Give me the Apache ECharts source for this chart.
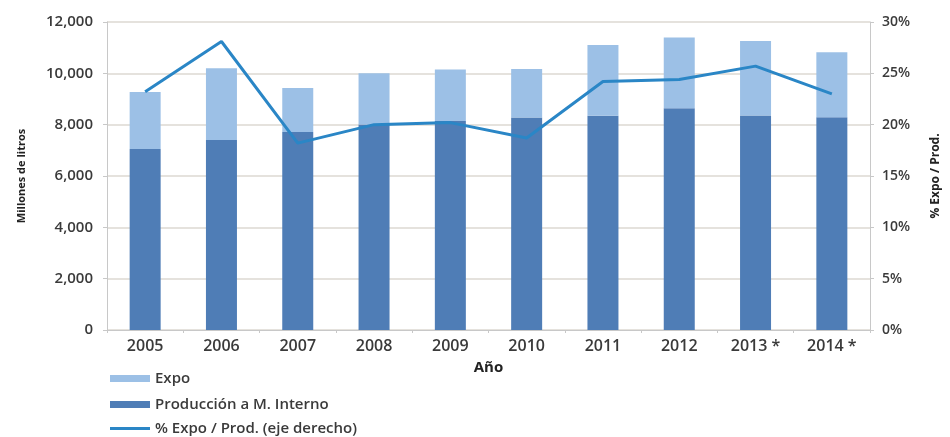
<!DOCTYPE html>
<html>
<head>
<meta charset="utf-8">
<script src="https://cdn.jsdelivr.net/npm/echarts@6/dist/echarts.min.js"></script>
<style>
  html, body { margin: 0; padding: 0; background: #fff; }
  #chart { width: 950px; height: 437px; }
</style>
</head>
<body>
<div id="chart"></div>
<script>
// Years (2013 and 2014 are estimates)
const years = ['2005', '2006', '2007', '2008', '2009', '2010', '2011', '2012', '2013 *', '2014 *'];
// Domestic-market production, millions of litres
const produccionInterno = [7050, 7400, 7710, 8010, 8140, 8280, 8350, 8640, 8360, 8290];
// Total production, millions of litres (export = total - domestic)
const produccionTotal = [9270, 10200, 9430, 10000, 10150, 10170, 11100, 11400, 11260, 10820];
// Export share of production, percent (right axis)
const pctExpo = [23.2, 28.1, 18.2, 20.0, 20.2, 18.7, 24.2, 24.4, 25.7, 23.0];

const expo = produccionTotal.map((t, i) => t - produccionInterno[i]);

const font = 'Open Sans';
const textColor = '#3a3a3a';
const gridColor = '#dcd8d2';
const colInterno = '#4f7db6';
const colExpo = '#9cc0e6';
const colLine = '#2a86c6';

const legendText = { fontFamily: font, fontSize: 15, color: textColor, fontWeight: 600 };

// One legend per row so the three entries stack in a single column
function legendRow(name, top, h) {
  return {
    left: 110, top: top,
    itemWidth: 40, itemHeight: h,
    icon: 'rect',
    padding: 0,
    textStyle: legendText,
    data: [{ name: name }]
  };
}

const chart = echarts.init(document.getElementById('chart'));
chart.setOption({
  animation: false,
  textStyle: { fontFamily: font },
  grid: { left: 107, right: 73, top: 22, bottom: 107 },
  legend: [
    legendRow('Expo', 371, 7),
    legendRow('Producción a M. Interno', 397, 7),
    legendRow('% Expo / Prod. (eje derecho)', 421, 3)
  ],
  xAxis: {
    type: 'category',
    data: years,
    name: 'Año',
    nameLocation: 'middle',
    nameGap: 30,
    nameTextStyle: { fontFamily: font, fontSize: 15, fontWeight: 700, color: '#222' },
    axisLine: { lineStyle: { color: '#c8c8c8' } },
    axisTick: { show: true, length: 3, lineStyle: { color: '#c8c8c8' } },
    axisLabel: { fontFamily: font, fontSize: 16, fontWeight: 600, color: textColor, margin: 8 }
  },
  yAxis: [
    {
      type: 'value',
      min: 0, max: 12000, interval: 2000,
      name: 'Millones de litros',
      nameLocation: 'middle',
      nameGap: 80,
      nameTextStyle: { fontFamily: font, fontSize: 11, fontWeight: 700, color: '#222' },
      axisLine: { show: true, lineStyle: { color: '#c8c8c8' } },
      axisTick: { show: true, length: 4, lineStyle: { color: '#c8c8c8' } },
      splitLine: { lineStyle: { color: gridColor, width: 1.5 } },
      axisLabel: {
        fontFamily: font, fontSize: 15, fontWeight: 600, color: textColor, margin: 14,
        formatter: v => v.toLocaleString('en-US')
      }
    },
    {
      type: 'value',
      min: 0, max: 30, interval: 5,
      name: '% Expo / Prod.',
      nameLocation: 'middle',
      nameGap: 60,
      nameRotate: 90,
      nameTextStyle: { fontFamily: font, fontSize: 12, fontWeight: 700, color: '#222' },
      axisLine: { show: true, lineStyle: { color: '#c8c8c8' } },
      axisTick: { show: true, length: 4, lineStyle: { color: '#c8c8c8' } },
      splitLine: { show: false },
      axisLabel: {
        fontFamily: font, fontSize: 14, fontWeight: 600, color: textColor, margin: 12,
        formatter: v => v + '%'
      }
    }
  ],
  series: [
    {
      name: 'Producción a M. Interno',
      type: 'bar',
      stack: 'prod',
      barWidth: 31,
      itemStyle: { color: colInterno },
      data: produccionInterno
    },
    {
      name: 'Expo',
      type: 'bar',
      stack: 'prod',
      barWidth: 31,
      itemStyle: { color: colExpo },
      data: expo
    },
    {
      name: '% Expo / Prod. (eje derecho)',
      type: 'line',
      yAxisIndex: 1,
      symbol: 'none',
      lineStyle: { color: colLine, width: 3 },
      itemStyle: { color: colLine },
      data: pctExpo
    }
  ]
});
</script>
</body>
</html>
